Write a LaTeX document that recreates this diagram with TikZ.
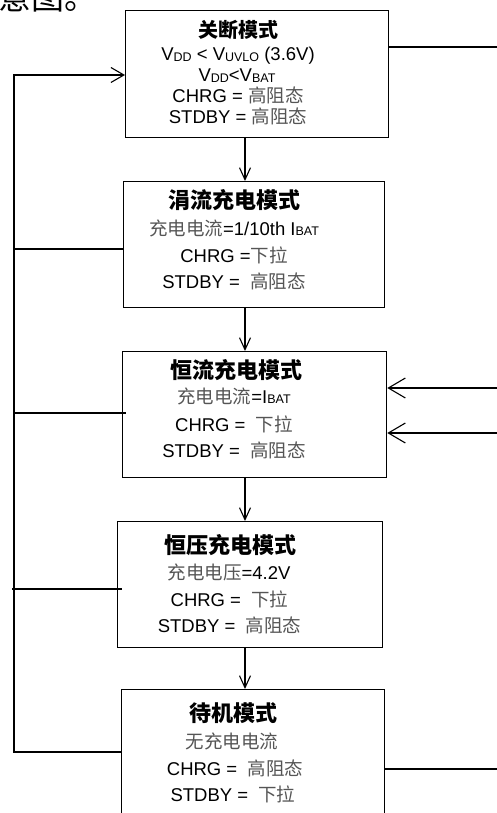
\documentclass[tikz,border=0pt]{standalone}
\usepackage{fontspec}
\setmainfont{Liberation Sans}
\newfontfamily\cjk{Noto Sans CJK SC}
\usetikzlibrary{arrows.meta}
\definecolor{zhgray}{HTML}{555555}
\newcommand\zhtxt[1]{{\cjk\color{zhgray}#1}}
\newcommand\sbs[1]{\raisebox{-0.8pt}{\fontsize{12.5}{12.5}\selectfont #1}}
\tikzset{
  box/.style={draw, line width=1.3pt, inner sep=0pt, anchor=north west},
  txt/.style={anchor=base, inner sep=0pt, font=\fontsize{18.5}{20}\selectfont},
  ttl/.style={anchor=base, inner sep=0pt, font=\fontsize{22}{24}\selectfont\cjk\bfseries},
  ln/.style={line width=1.1pt},
  arr/.style={ln, -{Straight Barb[length=12pt,width=11pt]}},
  arrl/.style={ln, -{Straight Barb[length=13pt,width=15pt]}},
  arrb/.style={ln, -{Straight Barb[length=17pt,width=20pt]}},
}
\begin{document}
\begin{tikzpicture}[x=1pt,y=-1pt]
\useasboundingbox (0,0) rectangle (497,813);
\clip (0,0) rectangle (497,813);
% partial caption at top-left
\node[anchor=base west, inner sep=0pt, font=\fontsize{33}{33}\selectfont\cjk] (cap) at (-2,10) {意图。};
% boxes
\node[box, minimum width=263pt, minimum height=127pt] (b1) at (125,10) {};
\node[box, minimum width=261pt, minimum height=126pt] (b2) at (123,181) {};
\node[box, minimum width=264pt, minimum height=126pt] (b3) at (122,351) {};
\node[box, minimum width=265pt, minimum height=126pt] (b4) at (117,521) {};
\node[box, minimum width=263pt, minimum height=146pt] (b5) at (121,689) {};
% box 1 text
\node[ttl, font=\fontsize{20}{22}\selectfont\cjk\bfseries] (t1) at (238,37.5) {关断模式};
\node[txt] (t1a) at (238,61) {V\sbs{DD} < V\sbs{UVLO} (3.6V)};
\node[txt] (t1b) at (237,81.5) {V\sbs{DD}<V\sbs{BAT}};
\node[txt] (t1c) at (238,103) {CHRG = \zhtxt{高阻态}};
\node[txt] (t1d) at (238,124) {STDBY = \zhtxt{高阻态}};
% box 2 text
\node[ttl] (t2) at (234,208.5) {涓流充电模式};
\node[txt] (t2a) at (234,235) {\zhtxt{充电电流}=1/10th I\sbs{BAT}};
\node[txt] (t2b) at (234,262) {CHRG =\zhtxt{下拉}};
\node[txt] (t2c) at (234,288) {STDBY =\ \ \zhtxt{高阻态}};
% box 3 text
\node[ttl] (t3) at (236,378.5) {恒流充电模式};
\node[txt] (t3a) at (234,403) {\zhtxt{充电电流}=I\sbs{BAT}};
\node[txt] (t3b) at (234,431) {CHRG =\ \ \zhtxt{下拉}};
\node[txt] (t3c) at (234,457) {STDBY =\ \ \zhtxt{高阻态}};
% box 4 text
\node[ttl] (t4) at (230,553.5) {恒压充电模式};
\node[txt] (t4a) at (229,579) {\zhtxt{充电电压}=4.2V};
\node[txt] (t4b) at (229.5,606.5) {CHRG =\ \ \zhtxt{下拉}};
\node[txt] (t4c) at (229.5,632.5) {STDBY =\ \ \zhtxt{高阻态}};
% box 5 text
\node[ttl] (t5) at (233.5,721.5) {待机模式};
\node[txt] (t5a) at (232,748.5) {\zhtxt{无充电电流}};
\node[txt] (t5b) at (235,775) {CHRG =\ \ \zhtxt{高阻态}};
\node[txt] (t5c) at (233,801) {STDBY =\ \ \zhtxt{下拉}};
% down arrows
\coordinate (ax) at (245,0);
\draw[arr] (b1.south -| ax) -- (b2.north -| ax);
\draw[arr] (b2.south -| ax) -- (b3.north -| ax);
\draw[arr] (b3.south -| ax) -- (b4.north -| ax);
\draw[arr] (b4.south -| ax) -- (b5.north -| ax);
% left bus
\coordinate (L1) at (14,75);
\coordinate (L5) at (14,752);
\coordinate (j2) at (14,249);
\coordinate (j3) at (14,413);
\coordinate (j4) at (12,589);
\draw[arrl] (b5.west |- L5) -- (L5) -- (L1) -- (b1.west |- L1);
\draw[ln] (j2) -- (b2.west |- j2);
\draw[ln] (j3) -- ([xshift=4pt]b3.west |- j3);
\draw[ln] (j4) -- ([xshift=5pt]b4.west |- j4);
% right side
\coordinate (r1) at (497,47);
\coordinate (r3a) at (497,388);
\coordinate (r3b) at (497,433);
\coordinate (r5) at (497,769);
\draw[ln] (b1.east |- r1) -- (r1);
\draw[arrb] (r3a) -- (b3.east |- r3a);
\draw[arrb] (r3b) -- (b3.east |- r3b);
\draw[ln] (b5.east |- r5) -- (r5);
\end{tikzpicture}
\end{document}
